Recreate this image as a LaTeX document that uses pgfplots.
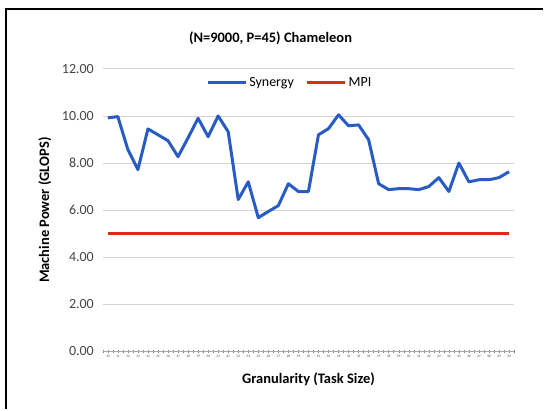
\documentclass[border=0pt]{standalone}
\usepackage{pgfplots}
\pgfplotsset{compat=1.18}
\usepackage{fontspec}
\setmainfont{Carlito}
\definecolor{syn}{RGB}{40,92,196}
\definecolor{mpi}{RGB}{218,46,16}
\definecolor{tl}{RGB}{70,70,70}
\definecolor{gridc}{RGB}{210,210,210}
\pgfplotstableread{
x y
10 9.92
11 9.97
12 8.57
13 7.72
14 9.45
15 9.20
16 8.95
17 8.27
18 9.07
19 9.90
20 9.12
21 10.00
22 9.33
23 6.45
24 7.20
25 5.68
26 5.94
27 6.19
28 7.12
29 6.79
30 6.79
31 9.20
32 9.46
33 10.05
34 9.58
35 9.62
36 8.99
37 7.12
38 6.87
39 6.91
40 6.91
41 6.87
42 7.00
43 7.38
44 6.79
45 8.00
46 7.20
47 7.29
48 7.29
49 7.38
50 7.63
}\syn
\pgfplotstableread{
x y
10 5.0
50 5.0
}\mpi
\begin{document}
\begin{tikzpicture}[x=1pt,y=1pt]
\path[fill=white] (0,0) rectangle (544,410);
\draw[line width=2pt] (6,0) -- (6,401) -- (544,401);
\node[font=\fontsize{14.5}{16}\selectfont\bfseries] at (271,372) {(N=9000, P=45) Chameleon};
\begin{axis}[
  at={(103pt,58pt)}, anchor=south west,
  width=412pt, height=283pt, scale only axis,
  xmin=9.5, xmax=50.5, ymin=0, ymax=12,
  ytick={0,2,...,12},
  yticklabel={\pgfmathprintnumber[fixed,fixed zerofill,precision=2]{\tick}},
  /pgf/number format/assume math mode=true,
  yticklabel style={font=\fontsize{14}{16}\selectfont, text=tl, xshift=-4pt},
  ymajorgrids, major grid style={gridc, line width=0.8pt},
  ytick style={draw=none},
  xtick={10,...,50},
  minor xtick={9.5,10.5,...,50.5},
  xticklabel style={font=\fontsize{3.5}{4}\selectfont\itshape, text=tl, yshift=1pt},
  tick align=center, major tick length=3pt, minor tick length=3pt,
  xtick style={gridc!60!black, line width=0.4pt},
  axis x line*=bottom, axis y line*=left,
  x axis line style={gridc!80!black, line width=0.8pt, -},
  y axis line style={draw=none},
  xlabel={\bfseries Granularity (Task Size)},
  ylabel={\bfseries Machine Power (GLOPS)},
  label style={font=\fontsize{14.5}{16}\selectfont},
  xlabel style={at={(axis description cs:0.5,-0.1)}, anchor=center},
  ylabel style={at={(axis description cs:-0.141,0.5)}, anchor=center},
  legend columns=2,
  legend style={at={(axis description cs:0.455,0.952)}, anchor=center, draw=none, fill=none,
    font=\fontsize{14}{16}\selectfont,
    /tikz/every even column/.append style={column sep=10pt}},
  legend image code/.code={\draw[#1] (0pt,0pt) -- (38pt,0pt);},
  clip=false,
]
\addplot[syn, line width=3pt, line join=round] table[x=x,y=y] {\syn};
\addlegendentry{Synergy}
\addplot[mpi, line width=3pt] table[x=x,y=y] {\mpi};
\addlegendentry{MPI}
\end{axis}
\end{tikzpicture}
\end{document}
